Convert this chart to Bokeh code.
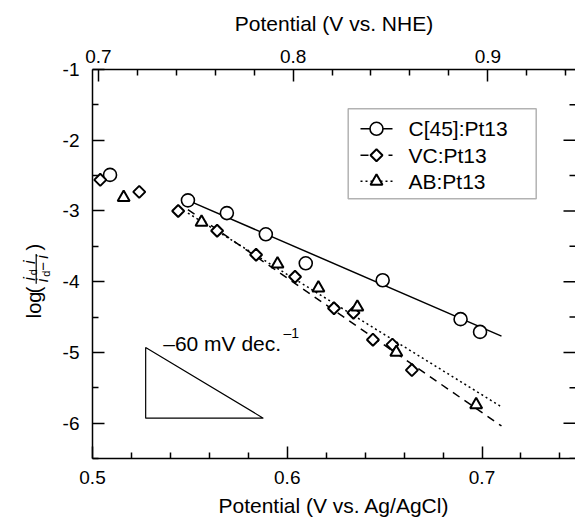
from math import pi
from bokeh.plotting import figure
from bokeh.layouts import row
from bokeh.models import Range1d, LinearAxis, FixedTicker, Label, BoxAnnotation
from bokeh.core.properties import value
from bokeh.embed import file_html
from bokeh.resources import INLINE

# ---------------- data ----------------
c45_x = [0.509, 0.549, 0.569, 0.589, 0.6095, 0.649, 0.689, 0.699]
c45_y = [-2.49, -2.85, -3.03, -3.33, -3.74, -3.98, -4.53, -4.71]
vc_x = [0.504, 0.524, 0.544, 0.564, 0.584, 0.604, 0.624, 0.634, 0.644, 0.654, 0.664]
vc_y = [-2.56, -2.73, -3.00, -3.28, -3.62, -3.93, -4.375, -4.44, -4.82, -4.89, -5.25]
ab_x = [0.516, 0.556, 0.595, 0.616, 0.636, 0.656, 0.697]
ab_y = [-2.81, -3.16, -3.75, -4.09, -4.36, -5.00, -5.74]
fit_x = [0.549, 0.710]
fit_c45_y = [-2.85, -4.77]
fit_vc_y = [-2.98, -6.04]
fit_ab_y = [-3.03, -5.77]
slope_tri_x = [0.5273, 0.5273, 0.5877]
slope_tri_y = [-4.93, -5.93, -5.93]
series_names = ["C[45]:Pt13", "VC:Pt13", "AB:Pt13"]
bottom_ticks = [0.5, 0.6, 0.7]
bottom_minor = [0.52, 0.54, 0.56, 0.58, 0.62, 0.64, 0.66, 0.68, 0.72, 0.74]
top_ticks = [0.7, 0.8, 0.9]
top_minor = [0.72, 0.74, 0.76, 0.78, 0.82, 0.84, 0.86, 0.88, 0.92, 0.94]
y_ticks = [-1, -2, -3, -4, -5, -6]
y_tick_labels = ["-1", "-2", "-3", "-4", "-5", "-6"]
y_minor = [-1.5, -2.5, -3.5, -4.5, -5.5, -6.5]
nhe_offset = 0.197
slope_text = "\u201360 mV dec."
slope_sup = "\u20131"
x_title = "Potential (V vs. Ag/AgCl)"
top_title = "Potential (V vs. NHE)"

# ---------------- layout ----------------
W, H = 575, 519
LABW = 58                      # strip holding the y-axis title
FL, FT, FB, FR = 92, 69, 458, 575
XPX = 1947.5
x_end = 0.5 + (FR - FL) / XPX
YPX = (FB - FT) / 5.5
FONT = "Liberation Sans"


def sx(px):
    return 0.5 + (px - FL) / XPX


def sy(py):
    return -1 - (py - FT) / YPX


# ---------- strip with the y-axis title log( i_d i / (i_d - i) ) ----------
lab = figure(width=LABW, height=H, x_range=Range1d(0, LABW), y_range=Range1d(0, H),
             output_backend="svg", toolbar_location=None, min_border=0)
lab.axis.visible = False
lab.grid.visible = False
lab.outline_line_color = None
lab.background_fill_color = "white"
lab.border_fill_color = "white"


def ytxt(xs, ys, texts, size, style="normal"):
    lab.text(x=xs, y=[H - v for v in ys], text=texts, angle=pi / 2,
             text_font=value(FONT), text_font_size=value(size),
             text_font_style=style, text_color="black",
             text_align="center", text_baseline="middle")


ytxt([33.5, 33.5, 33.5], [314, 294, 237], ["log", "(", ")"], "20px")
ytxt([28.5, 28.5, 42, 42], [279.5, 257, 281.5, 250], ["i", "i", "i", "i"], "16px", "italic")
ytxt([32, 45.5], [270.5, 272.5], ["d", "d"], "11px")
ytxt([42], [262.5], ["\u2212"], "15px")
lab.segment(x0=[35.7], y0=[H - 246], x1=[35.7], y1=[H - 286],
            line_color="black", line_width=1.2)

# ---------------- main plot ----------------
p = figure(width=W - LABW, height=H, x_range=Range1d(0.5, x_end),
           y_range=Range1d(-6.5, -1), output_backend="svg", toolbar_location=None,
           min_border_left=FL - LABW, min_border_top=FT, min_border_bottom=H - FB,
           min_border_right=0)
p.xgrid.visible = False
p.ygrid.visible = False
p.outline_line_color = None
p.background_fill_color = "white"
p.border_fill_color = "white"
p.extra_x_ranges = {"nhe": Range1d(0.5 + nhe_offset, x_end + nhe_offset)}

top_axis = LinearAxis(x_range_name="nhe")
p.add_layout(top_axis, "above")
left_axis = p.left[0]
bottom_axis = p.below[0]

bottom_axis.ticker = FixedTicker(ticks=bottom_ticks, minor_ticks=bottom_minor)
top_axis.ticker = FixedTicker(ticks=top_ticks, minor_ticks=top_minor)
left_axis.ticker = FixedTicker(ticks=y_ticks, minor_ticks=y_minor)
left_axis.major_label_overrides = {t: s for t, s in zip(y_ticks, y_tick_labels)}

for ax in (bottom_axis, top_axis, left_axis):
    ax.major_tick_in = 12
    ax.major_tick_out = 0
    ax.minor_tick_in = 6
    ax.minor_tick_out = 0
    ax.axis_line_color = "black"
    ax.axis_line_width = 1.5
    ax.major_tick_line_color = "black"
    ax.major_tick_line_width = 1.5
    ax.minor_tick_line_color = "black"
    ax.minor_tick_line_width = 1.5
    ax.major_label_text_font = FONT
    ax.major_label_text_font_size = "19px"
    ax.major_label_text_color = "black"
    ax.axis_label_text_font = FONT
    ax.axis_label_text_font_size = "21px"
    ax.axis_label_text_font_style = "normal"
    ax.axis_label_text_color = "black"

bottom_axis.axis_label = x_title
bottom_axis.major_label_standoff = 12
bottom_axis.axis_label_standoff = 7
top_axis.axis_label = top_title
top_axis.major_label_standoff = 7
top_axis.axis_label_standoff = 12
left_axis.major_label_standoff = 13

# right-hand frame ticks (pointing inward from the right edge)
p.ray(x=[x_end] * len(y_ticks), y=y_ticks, length=12, length_units="screen",
      angle=pi, line_color="black", line_width=1.5)
p.ray(x=[x_end] * len(y_minor), y=y_minor, length=6, length_units="screen",
      angle=pi, line_color="black", line_width=1.5)

# ---------------- data marks ----------------
DASH = {"solid": "solid", "dash": "8 6", "dot": "2 3"}
p.line(fit_x, fit_c45_y, line_color="black", line_width=1.5)
p.line(fit_x, fit_vc_y, line_color="black", line_width=1.5, line_dash=DASH["dash"])
p.line(fit_x, fit_ab_y, line_color="black", line_width=1.5, line_dash=DASH["dot"])

MK = dict(line_color="black", fill_color="white")
p.scatter(c45_x, c45_y, marker="circle", size=13, line_width=1.6, **MK)
p.scatter(vc_x, vc_y, marker="square", angle=pi / 4, size=8.5, line_width=2, **MK)
p.scatter(ab_x, ab_y, marker="triangle", size=12, line_width=2, **MK)

p.patch(slope_tri_x, slope_tri_y, fill_color=None, line_color="black", line_width=1.2)

p.add_layout(Label(x=sx(162.7), y=sy(343.3), text=slope_text, text_font=FONT,
                   text_font_size="21px", text_color="black",
                   text_align="left", text_baseline="alphabetic"))
p.add_layout(Label(x=sx(283), y=sy(332), text=slope_sup, text_font=FONT,
                   text_font_size="14px", text_color="black",
                   text_align="left", text_baseline="alphabetic"))

# ---------------- legend (drawn by hand so the diamond keeps its shape) ----------------
p.add_layout(BoxAnnotation(left=sx(347.7), right=sx(535.7), top=sy(108.3),
                           bottom=sy(198.3), fill_color="white", fill_alpha=1,
                           line_color="black", line_width=1.5, level="underlay"))
row_py = [128.3, 154.8, 180.8]
gx0, gx1, gxm, tx = sx(360), sx(392), sx(376), sx(408)
p.line([gx0, gx1], [sy(row_py[0])] * 2, line_color="black", line_width=1.5)
p.line([gx0, gx1], [sy(row_py[1])] * 2, line_color="black", line_width=1.5,
       line_dash=DASH["dash"])
p.line([gx0, gx1], [sy(row_py[2])] * 2, line_color="black", line_width=1.5,
       line_dash=DASH["dot"])
p.scatter([gxm], [sy(row_py[0])], marker="circle", size=13, line_width=1.6, **MK)
p.scatter([gxm], [sy(row_py[1])], marker="square", angle=pi / 4, size=8.5,
          line_width=2, **MK)
p.scatter([gxm], [sy(row_py[2])], marker="triangle", size=12, line_width=2, **MK)
p.text(x=[tx] * 3, y=[sy(v) for v in row_py], text=series_names,
       text_font=value(FONT), text_font_size=value("21px"), text_color="black",
       text_align="left", text_baseline="middle")

root = row(lab, p, spacing=0)
open("out.html", "w").write(file_html(root, INLINE))
